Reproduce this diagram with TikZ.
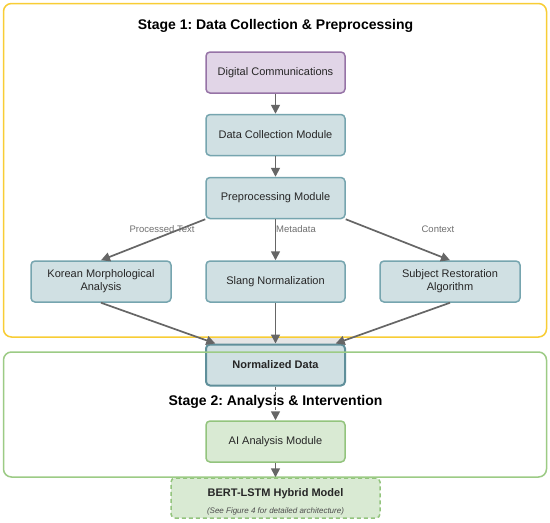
\documentclass[tikz,border=0pt]{standalone}
\usepackage{fontspec}
\setmainfont{Liberation Sans}
\frenchspacing
\usetikzlibrary{arrows.meta}
\definecolor{purfill}{HTML}{E1D5E7}
\definecolor{purdraw}{HTML}{9673A6}
\definecolor{bfill}{HTML}{D0E0E3}
\definecolor{bdraw}{HTML}{76A5AF}
\definecolor{bdrawdk}{HTML}{5F8F9A}
\definecolor{gfill}{HTML}{D9EAD3}
\definecolor{gdraw}{HTML}{93C47D}
\definecolor{yframe}{HTML}{F8CD35}
\definecolor{gframe}{HTML}{9CCB85}
\definecolor{arr}{HTML}{666666}
\definecolor{lbl}{HTML}{707070}
\tikzset{
  x=1pt, y=-1pt,
  box/.style={rectangle, rounded corners=4pt, line width=1.5pt, minimum width=139pt, minimum height=41pt, inner sep=0pt, align=center, font=\fontsize{11}{13}\selectfont, text=black!85},
  purbox/.style={box, fill=purfill, draw=purdraw},
  bluebox/.style={box, fill=bfill, draw=bdraw},
  greenbox/.style={box, fill=gfill, draw=gdraw},
  frame/.style={rounded corners=8pt, line width=1.5pt},
  flow/.style={draw=arr, line width=1.7pt, -{Triangle[length=9pt,width=9pt]}},
  elabel/.style={font=\fontsize{9.5}{11}\selectfont, text=lbl},
  stitle/.style={font=\fontsize{14}{16}\selectfont\bfseries, text=black}
}
\begin{document}
\begin{tikzpicture}
\useasboundingbox (0,0) rectangle (550,523);
\fill[white] (0,0) rectangle (550,523);
% stage 1 frame
\draw[frame, draw=yframe] (3.5,3.5) rectangle (546.5,337);
\node[stitle] (t1) at (275.5,26) {Stage 1: Data Collection \& Preprocessing};
% shade under normalized data
\fill[black!10] (207,338) rectangle (344,346);
% nodes
\node[purbox] (dc) at (275.5,72.5) {Digital Communications};
\node[bluebox] (dcm) at (275.5,135) {Data Collection Module};
\node[bluebox] (pm) at (275.5,198) {Preprocessing Module};
\node[bluebox, minimum width=140pt] (km) at (101,281.5) {Korean Morphological\\Analysis};
\node[bluebox] (sn) at (275.5,281.5) {Slang Normalization};
\node[bluebox, minimum width=140pt] (sr) at (450,281.5) {Subject Restoration\\Algorithm};
\node[bluebox, draw=bdrawdk, line width=2pt, font=\fontsize{11}{13}\selectfont\bfseries] (nd) at (275.5,365) {Normalized Data};
\node[greenbox] (ai) at (275.5,441.5) {AI Analysis Module};
\node[box, minimum width=209pt, minimum height=40pt, fill=gfill, draw=gdraw, dashed, dash pattern=on 4pt off 3pt] (bm) at (275.5,498) {};
\node[font=\fontsize{11}{13}\selectfont\bfseries, text=black!85] (bmt) at (275.5,494) {BERT-LSTM Hybrid Model};
\node[font=\fontsize{8}{10}\selectfont\itshape, text=black!70] (bms) at (275.5,511) {(See Figure 4 for detailed architecture)};
% stage 2 frame
\draw[frame, draw=gframe] (3.5,352) rectangle (546.5,477);
% connectors
\draw[flow] (dc) -- (dcm);
\draw[flow] (dcm) -- (pm);
\draw[flow] (pm.south west) -- (km.north);
\draw[flow] (pm) -- (sn);
\draw[flow] (pm.south east) -- (sr.north);
\draw[flow] (km.south) -- (nd);
\draw[flow] (sn) -- (nd);
\draw[flow] (sr.south) -- (nd);
\draw[flow, dash pattern=on 3pt off 2pt] (nd) -- (ai);
\draw[flow] (ai) -- (bm);
% edge labels
\node[elabel] (l1) at (162,229) {Processed Text};
\node[elabel] (l2) at (296,229) {Metadata};
\node[elabel] (l3) at (438,229) {Context};
\node[stitle] (t2) at (275.5,402) {Stage 2: Analysis \& Intervention};
\end{tikzpicture}
\end{document}
